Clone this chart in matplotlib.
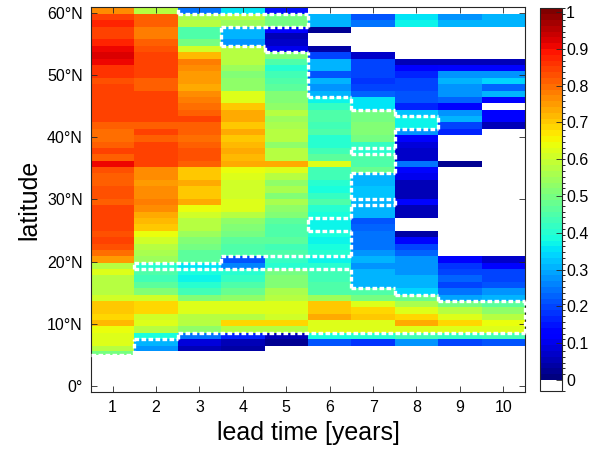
import numpy as np
import matplotlib.pyplot as plt
from matplotlib.colors import ListedColormap, BoundaryNorm

plt.rcParams['font.family'] = ['Liberation Sans', 'DejaVu Sans']

nan = np.nan

lead = np.arange(1, 11)
# latitude grid edges (model grid gets finer towards the equator)
lat_edges = np.r_[4.93, 5.55, np.linspace(6.47, 60.9, 54)]

# skill for each lead year, rows from the southernmost cell upward
skill_1 = [0.50, 0.58, 0.62, 0.63, 0.64, 0.72, 0.69, 0.71, 0.70, 0.61,
           0.57, 0.57, 0.58, 0.62, 0.58, 0.75, 0.79, 0.83, 0.85, 0.83,
           0.85, 0.85, 0.84, 0.85, 0.82, 0.83, 0.83, 0.82, 0.82, 0.83,
           0.90, 0.82, 0.85, 0.81, 0.80, 0.79, 0.82, 0.84, 0.84, 0.85,
           0.85, 0.85, 0.85, 0.83, 0.86, 0.86, 0.91, 0.93, 0.90, 0.88,
           0.85, 0.85, 0.87, 0.84, 0.76]
skill_2 = [nan, 0.28, 0.30, 0.38, 0.57, 0.62, 0.61, 0.69, 0.69, 0.60,
           0.52, 0.47, 0.43, 0.45, 0.40, 0.55, 0.56, 0.58, 0.60, 0.64,
           0.70, 0.72, 0.73, 0.76, 0.78, 0.77, 0.76, 0.75, 0.76, 0.77,
           0.84, 0.85, 0.85, 0.84, 0.82, 0.84, 0.82, 0.84, 0.85, 0.84,
           0.85, 0.84, 0.82, 0.82, 0.84, 0.85, 0.84, 0.85, 0.83, 0.82,
           0.78, 0.78, 0.82, 0.82, 0.57]
skill_3 = [nan, 0.05, 0.08, 0.25, 0.53, 0.57, 0.58, 0.62, 0.62, 0.52,
           0.44, 0.40, 0.37, 0.38, 0.36, 0.46, 0.47, 0.50, 0.52, 0.55,
           0.57, 0.58, 0.60, 0.64, 0.74, 0.71, 0.71, 0.73, 0.70, 0.71,
           0.82, 0.83, 0.83, 0.81, 0.79, 0.81, 0.82, 0.84, 0.82, 0.79,
           0.78, 0.77, 0.73, 0.75, 0.75, 0.77, 0.78, 0.72, 0.60, 0.50,
           0.45, 0.45, 0.58, 0.56, 0.25]
skill_4 = [nan, 0.04, 0.05, 0.16, 0.57, 0.69, 0.58, 0.62, 0.62, 0.53,
           0.48, 0.45, 0.42, 0.40, 0.26, 0.22, 0.45, 0.45, 0.47, 0.50,
           0.52, 0.53, 0.58, 0.62, 0.63, 0.60, 0.60, 0.61, 0.62, 0.64,
           0.73, 0.72, 0.73, 0.72, 0.71, 0.73, 0.71, 0.73, 0.73, 0.70,
           0.62, 0.62, 0.53, 0.53, 0.52, 0.54, 0.57, 0.58, 0.58, 0.28,
           0.31, 0.30, 0.55, 0.57, 0.35]
skill_5 = [nan, nan, 0.03, 0.06, 0.58, 0.69, 0.60, 0.63, 0.62, 0.57,
           0.56, 0.52, 0.52, 0.50, 0.40, 0.42, 0.45, 0.44, 0.46, 0.45,
           0.45, 0.47, 0.52, 0.53, 0.56, 0.52, 0.56, 0.53, 0.58, 0.63,
           0.73, 0.58, 0.57, 0.53, 0.58, 0.58, 0.56, 0.55, 0.57, 0.53,
           0.52, 0.52, 0.47, 0.45, 0.44, 0.40, 0.45, 0.52, 0.10, 0.07,
           0.06, 0.12, 0.50, 0.50, 0.15]
skill_6 = [nan, nan, 0.22, 0.38, 0.62, 0.63, 0.73, 0.71, 0.70, 0.55,
           0.45, 0.45, 0.43, 0.44, 0.40, 0.37, 0.40, 0.38, 0.37, 0.38,
           0.37, 0.37, 0.38, 0.40, 0.45, 0.42, 0.38, 0.40, 0.44, 0.44,
           0.62, 0.47, 0.43, 0.40, 0.40, 0.45, 0.44, 0.45, 0.45, 0.42,
           0.37, 0.30, 0.28, 0.31, 0.22, 0.31, 0.31, 0.20, 0.04, nan,
           nan, 0.03, 0.30, 0.31, nan]
skill_7 = [nan, nan, 0.18, 0.40, 0.62, 0.63, 0.71, 0.69, 0.62, 0.50,
           0.45, 0.31, 0.30, 0.30, 0.28, 0.30, 0.28, 0.25, 0.25, 0.25,
           0.23, 0.22, 0.30, 0.31, 0.30, 0.33, 0.33, 0.31, 0.31, 0.48,
           0.45, 0.45, 0.40, 0.42, 0.50, 0.52, 0.52, 0.50, 0.50, 0.36,
           0.36, 0.23, 0.20, 0.18, 0.20, 0.20, 0.19, 0.07, nan, nan,
           nan, nan, 0.25, 0.22, nan]
skill_8 = [nan, nan, 0.27, 0.44, 0.62, 0.73, 0.69, 0.62, 0.56, 0.48,
           0.34, 0.31, 0.30, 0.28, 0.27, 0.28, 0.23, 0.19, 0.13, 0.04,
           nan, nan, 0.06, 0.06, 0.13, 0.05, 0.05, 0.06, 0.11, 0.13,
           0.25, 0.07, 0.07, 0.08, 0.12, 0.27, 0.37, 0.37, 0.33, 0.16,
           0.22, 0.22, 0.20, 0.19, 0.16, 0.12, 0.06, nan, nan, nan,
           nan, nan, 0.37, 0.35, nan]
skill_9 = [nan, nan, 0.19, 0.42, 0.62, 0.69, 0.63, 0.57, 0.50, 0.29,
           0.25, 0.19, 0.23, 0.20, 0.18, 0.12, nan, nan, nan, nan,
           nan, nan, nan, nan, nan, nan, nan, nan, nan, nan,
           0.03, nan, nan, nan, nan, 0.16, 0.20, 0.30, 0.27, 0.14,
           0.23, 0.28, 0.28, 0.31, 0.28, 0.14, 0.06, nan, nan, nan,
           nan, nan, 0.31, 0.28, nan]
skill_10 = [nan, nan, 0.22, 0.43, 0.62, 0.64, 0.58, 0.53, 0.46, 0.31,
            0.28, 0.22, 0.19, 0.20, 0.14, 0.07, nan, nan, nan, nan,
            nan, nan, nan, nan, nan, nan, nan, nan, nan, nan,
            nan, nan, nan, nan, nan, nan, 0.06, 0.12, 0.12, nan,
            0.12, 0.30, 0.23, 0.34, 0.28, 0.14, 0.06, nan, nan, nan,
            nan, nan, 0.31, 0.31, nan]

# significant rows per lead year, inclusive (first, last) row ranges
sig_rows = [
    [(0, 54)],
    [(3, 13), (15, 54)],
    [(4, 13), (15, 53)],
    [(4, 13), (16, 48), (52, 53)],
    [(4, 13), (16, 47), (52, 53)],
    [(4, 13), (16, 19), (22, 40)],
    [(4, 10), (24, 24), (29, 31), (33, 38)],
    [(4, 9), (36, 37)],
    [(4, 8)],
    [(4, 8)],
]

ytick_vals = [0, 10, 20, 30, 40, 50, 60]
ytick_labels = ['0°', '10°N', '20°N', '30°N', '40°N', '50°N', '60°N']
cbar_ticks = np.round(np.arange(0, 1.01, 0.1), 1)

skill = np.column_stack([skill_1, skill_2, skill_3, skill_4, skill_5,
                         skill_6, skill_7, skill_8, skill_9, skill_10])
nrow, ncol = skill.shape
sig = np.zeros((nrow, ncol), bool)
for j, ranges in enumerate(sig_rows):
    for lo, hi in ranges:
        sig[lo:hi + 1, j] = True

# jet in 64 steps, white below zero
jet = plt.get_cmap('jet', 64)(np.arange(64))
cmap = ListedColormap(np.vstack([[1, 1, 1, 1], jet]))
cmap.set_bad('white')
bounds = np.r_[-0.03, np.linspace(0, 1.01, 65)]
norm = BoundaryNorm(bounds, cmap.N)

fig = plt.figure(figsize=(5.95, 4.51), dpi=100)
ax = fig.add_axes([0.1529, 0.1308, 0.7294, 0.8537])
x_edges = np.r_[lead - 0.5, lead[-1] + 0.5]
mesh = ax.pcolormesh(x_edges, lat_edges, np.ma.masked_invalid(skill),
                     cmap=cmap, norm=norm)

# outline the significant cells: pad bottom/right as outside,
# left/top copy the edge so no line is drawn there
pad = np.zeros((nrow + 2, ncol + 2), bool)
pad[1:-1, 1:-1] = sig
pad[1:-1, 0] = sig[:, 0]
pad[-1, 1:-1] = sig[-1, :]

runs = []
for i in range(nrow + 1):
    y = lat_edges[i]
    start = None
    for j in range(ncol + 1):
        edge = j < ncol and pad[i, j + 1] != pad[i + 1, j + 1]
        if edge and start is None:
            start = j
        if not edge and start is not None:
            runs.append(([start + 0.5, j + 0.5], [y, y]))
            start = None
for j in range(ncol + 1):
    x = j + 0.5
    start = None
    for i in range(nrow + 1):
        edge = i < nrow and pad[i + 1, j] != pad[i + 1, j + 1]
        if edge and start is None:
            start = i
        if not edge and start is not None:
            runs.append(([x, x], [lat_edges[start], lat_edges[i]]))
            start = None
for xs, ys in runs:
    ax.plot(xs, ys, color='white', lw=2.4, linestyle=(0, (1.4, 0.7)),
            dash_capstyle='butt', clip_on=False, zorder=3)

ax.set_xlim(0.5, 10.5)
ax.set_ylim(-1, 61)
ax.set_xticks(lead)
ax.set_yticks(ytick_vals)
ax.set_yticklabels(ytick_labels)
ax.tick_params(direction='in', length=4, width=0.6, top=True, right=True,
               labelsize=11.5, colors='0.15', labelcolor='black', pad=6)
for s in ax.spines.values():
    s.set_color('0.15')
    s.set_linewidth(0.8)
ax.set_xlabel('lead time [years]', fontsize=18, labelpad=4)
ax.set_ylabel('latitude', fontsize=18, labelpad=4)

cax = fig.add_axes([0.9076, 0.133, 0.037, 0.8486])
cb = fig.colorbar(mesh, cax=cax, ticks=cbar_ticks, spacing='proportional')
cb.ax.set_yticklabels([f'{t:g}' for t in cbar_ticks])
cb.ax.tick_params(direction='in', length=4, width=0.6, labelsize=11.5,
                  colors='0.15', labelcolor='black', pad=3)
cb.outline.set_edgecolor('0.15')
cb.outline.set_linewidth(0.8)

fig.savefig('out.png', dpi=100)
